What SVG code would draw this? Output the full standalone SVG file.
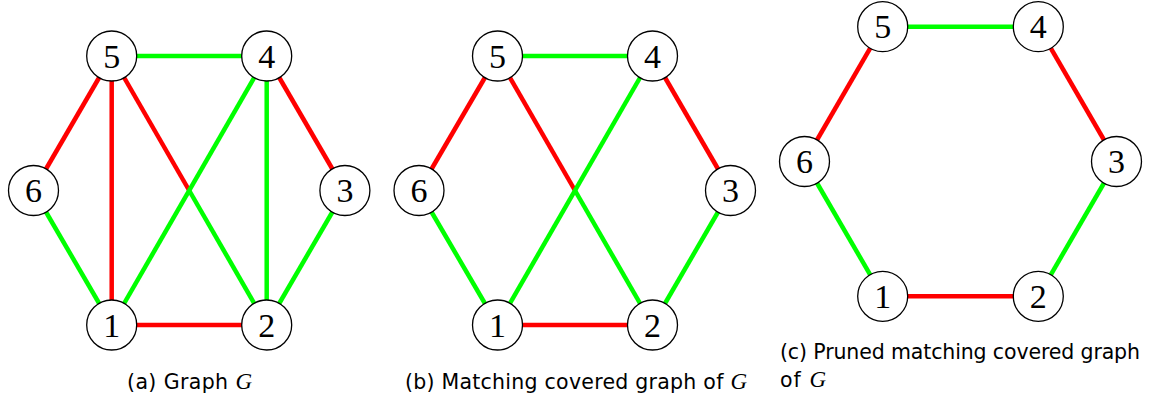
<svg xmlns="http://www.w3.org/2000/svg" width="1150" height="403" viewBox="0 0 1150 403">
<style>
.g{stroke:#00ff00;stroke-width:4.5;fill:none}
.r{stroke:#ff0000;stroke-width:4.5;fill:none}
.n circle{fill:#fff;stroke:#000;stroke-width:1.3}
.n text{font-family:"Liberation Serif","DejaVu Serif",serif;font-size:34px;text-anchor:middle;fill:#000}
.cap{font-family:"DejaVu Sans","Liberation Sans",sans-serif;font-size:20.5px;fill:#000}
.it{font-family:"Liberation Serif",serif;font-style:italic;font-size:23px}
</style>
<rect width="1150" height="403" fill="#fff"/>
<g id="connectors">
<!-- panel a -->
<line class="g" x1="111.7" y1="56" x2="266.7" y2="56"/>
<line class="r" x1="111.7" y1="56" x2="33.5" y2="190.5"/>
<line class="r" x1="111.7" y1="56" x2="111.7" y2="325"/>
<line class="r" x1="111.7" y1="56" x2="189.2" y2="190.5"/>
<line class="g" x1="189.2" y1="190.5" x2="266.7" y2="325"/>
<line class="g" x1="266.7" y1="56" x2="111.7" y2="325"/>
<line class="g" x1="266.7" y1="56" x2="266.7" y2="325"/>
<line class="r" x1="266.7" y1="56" x2="344.9" y2="190.5"/>
<line class="g" x1="33.5" y1="190.5" x2="111.7" y2="325"/>
<line class="g" x1="344.9" y1="190.5" x2="266.7" y2="325"/>
<line class="r" x1="111.7" y1="325" x2="266.7" y2="325"/>
<!-- panel b -->
<line class="g" x1="497.5" y1="56" x2="652.5" y2="56"/>
<line class="r" x1="497.5" y1="56" x2="419" y2="190.5"/>
<line class="r" x1="497.5" y1="56" x2="575" y2="190.5"/>
<line class="g" x1="575" y1="190.5" x2="652.5" y2="325"/>
<line class="g" x1="652.5" y1="56" x2="497.5" y2="325"/>
<line class="r" x1="652.5" y1="56" x2="730.5" y2="190.5"/>
<line class="g" x1="419" y1="190.5" x2="497.5" y2="325"/>
<line class="g" x1="730.5" y1="190.5" x2="652.5" y2="325"/>
<line class="r" x1="497.5" y1="325" x2="652.5" y2="325"/>
<!-- panel c -->
<line class="g" x1="882.7" y1="26.7" x2="1038.3" y2="26.7"/>
<line class="r" x1="882.7" y1="26.7" x2="804.5" y2="161.5"/>
<line class="r" x1="1038.3" y1="26.7" x2="1116.5" y2="161.5"/>
<line class="g" x1="804.5" y1="161.5" x2="882.7" y2="296.3"/>
<line class="g" x1="1116.5" y1="161.5" x2="1038.3" y2="296.3"/>
<line class="r" x1="882.7" y1="296.3" x2="1038.3" y2="296.3"/>
</g>
<g id="a5" class="n"><circle cx="111.7" cy="56" r="25"/><text x="111.7" y="67.5">5</text></g>
<g id="a4" class="n"><circle cx="266.7" cy="56" r="25"/><text x="266.7" y="67.5">4</text></g>
<g id="a6" class="n"><circle cx="33.5" cy="190.5" r="25"/><text x="33.5" y="202">6</text></g>
<g id="a3" class="n"><circle cx="344.9" cy="190.5" r="25"/><text x="344.9" y="202">3</text></g>
<g id="a1" class="n"><circle cx="111.7" cy="325" r="25"/><text x="111.7" y="336.5">1</text></g>
<g id="a2" class="n"><circle cx="266.7" cy="325" r="25"/><text x="266.7" y="336.5">2</text></g>

<g id="b5" class="n"><circle cx="497.5" cy="56" r="25"/><text x="497.5" y="67.5">5</text></g>
<g id="b4" class="n"><circle cx="652.5" cy="56" r="25"/><text x="652.5" y="67.5">4</text></g>
<g id="b6" class="n"><circle cx="419" cy="190.5" r="25"/><text x="419" y="202">6</text></g>
<g id="b3" class="n"><circle cx="730.5" cy="190.5" r="25"/><text x="730.5" y="202">3</text></g>
<g id="b1" class="n"><circle cx="497.5" cy="325" r="25"/><text x="497.5" y="336.5">1</text></g>
<g id="b2" class="n"><circle cx="652.5" cy="325" r="25"/><text x="652.5" y="336.5">2</text></g>

<g id="c5" class="n"><circle cx="882.7" cy="26.7" r="25"/><text x="882.7" y="38.2">5</text></g>
<g id="c4" class="n"><circle cx="1038.3" cy="26.7" r="25"/><text x="1038.3" y="38.2">4</text></g>
<g id="c6" class="n"><circle cx="804.5" cy="161.5" r="25"/><text x="804.5" y="173">6</text></g>
<g id="c3" class="n"><circle cx="1116.5" cy="161.5" r="25"/><text x="1116.5" y="173">3</text></g>
<g id="c1" class="n"><circle cx="882.7" cy="296.3" r="25"/><text x="882.7" y="307.8">1</text></g>
<g id="c2" class="n"><circle cx="1038.3" cy="296.3" r="25"/><text x="1038.3" y="307.8">2</text></g>

<g id="captions">
<text class="cap" x="127" y="389" textLength="125" lengthAdjust="spacing">(a) Graph <tspan class="it">G</tspan></text>
<text class="cap" x="405" y="389" textLength="342" lengthAdjust="spacing">(b) Matching covered graph of <tspan class="it">G</tspan></text>
<text class="cap" x="780" y="359" textLength="360" lengthAdjust="spacing">(c) Pruned matching covered graph</text>
<text class="cap" x="780" y="387" textLength="46" lengthAdjust="spacing">of <tspan class="it">G</tspan></text>
</g>
</svg>
